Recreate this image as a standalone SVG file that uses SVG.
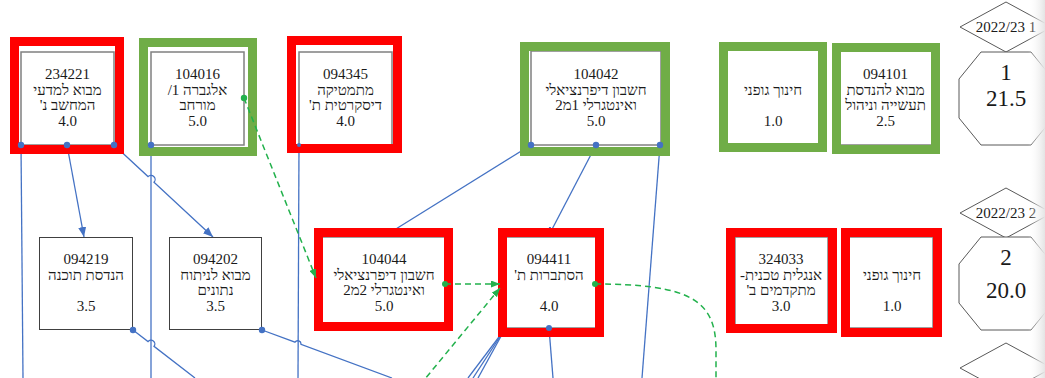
<svg xmlns="http://www.w3.org/2000/svg" width="1045" height="378" viewBox="0 0 1045 378">
<defs>
  <marker id="ab" viewBox="0 0 10 8" refX="10" refY="4" markerWidth="10" markerHeight="8" markerUnits="userSpaceOnUse" orient="auto">
    <path d="M0,0 L10,4 L0,8 z" fill="#4472C4"/>
  </marker>
  <marker id="ag" viewBox="0 0 9 7" refX="9" refY="3.5" markerWidth="9" markerHeight="7" markerUnits="userSpaceOnUse" orient="auto">
    <path d="M0,0 L9,3.5 L0,7 z" fill="#22B14C"/>
  </marker>
  <linearGradient id="shade" x1="0" y1="0" x2="1" y2="0">
    <stop offset="0" stop-color="#ffffff" stop-opacity="0"/>
    <stop offset="1" stop-color="#e4e4e4" stop-opacity="1"/>
  </linearGradient>
</defs>
<style>
  .conn { fill: none; stroke: #4472C4; stroke-width: 1.3; }
  .dash { fill: none; stroke: #22B14C; stroke-width: 1.5; stroke-dasharray: 6 4; }
  .bdot { fill: #4472C4; }
  .gdot { fill: #22B14C; }
  .box { fill: #ffffff; stroke: #808080; stroke-width: 1.5; }
  .plain { fill: #ffffff; stroke: #404040; stroke-width: 1; }
  .red { fill: none; stroke: #FF0000; stroke-width: 9; }
  .green { fill: none; stroke: #70AD47; stroke-width: 9; }
  .t { font-family: "Liberation Serif", "DejaVu Serif", serif; font-size: 15px; fill: #1a1a1a; text-anchor: middle; }
  .rtl { direction: rtl; }
  .big { font-size: 23px; }
  .shape { fill: #ffffff; stroke: #595959; stroke-width: 1; }
</style>
<rect x="0" y="0" width="1045" height="378" fill="#ffffff"/>

<!-- connectors drawn beneath the node frames -->
<g id="connectors">
  <path class="conn" d="M21,145 L23,378"/>
  <path class="conn" d="M151,145 L151,378"/>
  <path class="conn" d="M299,145 L298,378"/>
  <path class="conn" d="M67,145 L84,237" marker-end="url(#ab)"/>
  <path class="conn" d="M114,145 L148,176.6 A4.1,4.1 0 0 1 154,182.2 L213,237" marker-end="url(#ab)"/>
  <path class="conn" d="M133,330 L148,341.6 A3.8,3.8 0 0 1 154,346.3 L195,378"/>
  <path class="conn" d="M262,330 L295,342.2 A3.3,3.3 0 0 1 301,344.4 L392,378"/>
  <path class="conn" d="M531,145 L383,237" marker-end="url(#ab)"/>
  <path class="conn" d="M596,145 L548,237" marker-end="url(#ab)"/>
  <path class="conn" d="M660,145 L642,378"/>
  <path class="conn" d="M549,328 L553,378"/>
  <path class="conn" d="M505,329 L468,378"/>
  <path class="conn" d="M505,329 L473,378"/>
  <path class="conn" d="M505,329 L478,378"/>
</g>

<g id="n234221">
  <rect class="box" x="21" y="52" width="93" height="93"/>
  <rect class="red" x="14.5" y="41.5" width="105" height="108"/>
  <text class="t" x="67.5" y="79">234221</text>
  <text class="t rtl" x="67.5" y="94.5">מבוא למדעי</text>
  <text class="t rtl" x="67.5" y="110">המחשב נ'</text>
  <text class="t" x="67.5" y="125.5">4.0</text>
</g>

<g id="n104016">
  <rect class="box" x="151" y="52" width="93" height="93"/>
  <rect class="green" x="143.5" y="42.5" width="109" height="109"/>
  <text class="t" x="197.5" y="79">104016</text>
  <text class="t rtl" x="197.5" y="94.5">אלגברה 1/</text>
  <text class="t rtl" x="197.5" y="110">מורחב</text>
  <text class="t" x="197.5" y="125.5">5.0</text>
</g>

<g id="n094345">
  <rect class="box" x="299" y="52" width="93" height="93"/>
  <rect class="red" x="291.5" y="40.5" width="106" height="108"/>
  <text class="t" x="345.5" y="79">094345</text>
  <text class="t rtl" x="345.5" y="94.5">מתמטיקה</text>
  <text class="t rtl" x="345.5" y="110">דיסקרטית ת'</text>
  <text class="t" x="345.5" y="125.5">4.0</text>
</g>

<g id="n104042">
  <rect class="box" x="531" y="51" width="130" height="94"/>
  <rect class="green" x="524.5" y="46.5" width="141" height="105"/>
  <text class="t" x="596" y="79">104042</text>
  <text class="t rtl" x="596" y="94.5">חשבון דיפרנציאלי</text>
  <text class="t rtl" x="596" y="110">ואינטגרלי 1מ2</text>
  <text class="t" x="596" y="125.5">5.0</text>
</g>

<g id="nsport1">
  <rect class="box" x="727" y="50" width="92" height="94"/>
  <rect class="green" x="723.5" y="46.5" width="99" height="101"/>
  <text class="t rtl" x="773" y="94.5">חינוך גופני</text>
  <text class="t" x="773" y="125.5">1.0</text>
</g>

<g id="n094101">
  <rect class="box" x="839" y="51" width="93" height="94"/>
  <rect class="green" x="836.5" y="47.5" width="99" height="102"/>
  <text class="t" x="885.5" y="79">094101</text>
  <text class="t rtl" x="885.5" y="94.5">מבוא להנדסת</text>
  <text class="t rtl" x="885.5" y="110">תעשייה וניהול</text>
  <text class="t" x="885.5" y="125.5">2.5</text>
</g>

<g id="n094219">
  <rect class="plain" x="39.5" y="237.5" width="93" height="92"/>
  <text class="t" x="86" y="264">094219</text>
  <text class="t rtl" x="86" y="279.5">הנדסת תוכנה</text>
  <text class="t" x="86" y="310.5">3.5</text>
</g>

<g id="n094202">
  <rect class="plain" x="169.5" y="237.5" width="92" height="92"/>
  <text class="t" x="215.5" y="264">094202</text>
  <text class="t rtl" x="215.5" y="279.5">מבוא לניתוח</text>
  <text class="t rtl" x="215.5" y="295">נתונים</text>
  <text class="t" x="215.5" y="310.5">3.5</text>
</g>

<g id="n104044">
  <rect class="box" x="322" y="237" width="124" height="90"/>
  <rect class="red" x="318.5" y="232.5" width="130" height="94"/>
  <text class="t" x="384" y="264">104044</text>
  <text class="t rtl" x="384" y="279.5">חשבון דיפרנציאלי</text>
  <text class="t rtl" x="384" y="295">ואינטגרלי 2מ2</text>
  <text class="t" x="384" y="310.5">5.0</text>
</g>

<g id="n094411">
  <rect class="box" x="505" y="237" width="91" height="91"/>
  <rect class="red" x="502.5" y="232.5" width="97" height="100"/>
  <text class="t" x="549" y="264">094411</text>
  <text class="t rtl" x="549" y="279.5">הסתברות ת'</text>
  <text class="t" x="549" y="310.5">4.0</text>
</g>

<g id="n324033">
  <rect class="box" x="735" y="237" width="93" height="89"/>
  <rect class="red" x="730.5" y="232.5" width="102" height="96"/>
  <text class="t" x="781" y="264">324033</text>
  <text class="t rtl" x="781" y="279.5">אנגלית טכנית-</text>
  <text class="t rtl" x="781" y="295">מתקדמים ב'</text>
  <text class="t" x="781" y="310.5">3.0</text>
</g>

<g id="nsport2">
  <rect class="box" x="849" y="237" width="84" height="91"/>
  <rect class="red" x="845.5" y="232.5" width="92" height="100"/>
  <text class="t rtl" x="892" y="279.5">חינוך גופני</text>
  <text class="t" x="892" y="310.5">1.0</text>
</g>

<g id="sem1">
  <polygon class="shape" points="1006,2 1052,27 1006,52 960,27"/>
  <text class="t" x="1006" y="32">2022/23 1</text>
  <polygon class="shape" points="981,52 1031,52 1053,79 1053,118 1031,145 981,145 959,118 959,79"/>
  <text class="t big" x="1006" y="80">1</text>
  <text class="t big" x="1006" y="106">21.5</text>
</g>

<g id="sem2">
  <polygon class="shape" points="1006,188 1052,213 1006,238 960,213"/>
  <text class="t" x="1006" y="218">2022/23 2</text>
  <polygon class="shape" points="981,237 1031,237 1053,264 1053,303 1031,330 981,330 959,303 959,264"/>
  <text class="t big" x="1006" y="265">2</text>
  <text class="t big" x="1006" y="298">20.0</text>
</g>

<g id="sem3">
  <polygon class="shape" points="1006,343 1052,368 1006,393 960,368"/>
</g>

<!-- connectors drawn above the node frames -->
<g id="connectors-top">
  <path class="dash" d="M244,98 L316,278" marker-end="url(#ag)"/>
  <path class="dash" d="M445,284 L500,284" marker-end="url(#ag)"/>
  <path class="dash" d="M420,385 L500,288" marker-end="url(#ag)"/>
  <path class="dash" d="M595,284 C690,284 716,300 716,350 L716,378"/>
  <circle class="gdot" cx="244" cy="98" r="3.2"/>
  <circle class="gdot" cx="445" cy="284" r="3"/>
  <circle class="gdot" cx="595" cy="284" r="3"/>
  <circle class="bdot" cx="21" cy="145" r="3.2"/>
  <circle class="bdot" cx="67" cy="145" r="3.2"/>
  <circle class="bdot" cx="114" cy="145" r="3.2"/>
  <circle class="bdot" cx="151" cy="145" r="3.2"/>
  <circle class="bdot" cx="299" cy="145" r="2"/>
  <circle class="bdot" cx="531" cy="145" r="3.2"/>
  <circle class="bdot" cx="596" cy="145" r="3.2"/>
  <circle class="bdot" cx="660" cy="145" r="3.2"/>
  <circle class="bdot" cx="133" cy="330" r="3.2"/>
  <circle class="bdot" cx="262" cy="330" r="3.2"/>
  <circle class="bdot" cx="549" cy="328" r="3"/>
</g>

<rect x="1028" y="0" width="17" height="378" fill="url(#shade)"/>
</svg>
